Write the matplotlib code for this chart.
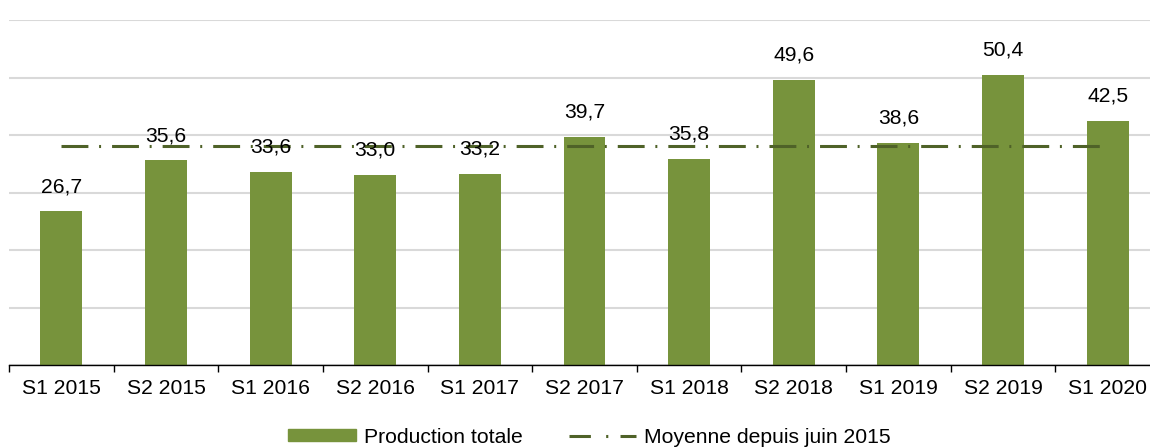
import numpy as np
import matplotlib.pyplot as plt
from matplotlib.lines import Line2D
from matplotlib.patches import Patch

plt.rcParams['font.family'] = ['Liberation Sans', 'DejaVu Sans']

periods = ["S1 2015", "S2 2015", "S1 2016", "S2 2016", "S1 2017", "S2 2017",
           "S1 2018", "S2 2018", "S1 2019", "S2 2019", "S1 2020"]
production = [26.7, 35.6, 33.6, 33.0, 33.2, 39.7, 35.8, 49.6, 38.6, 50.4, 42.5]
moyenne = [np.mean(production)] * len(production)

bar_color = '#77933C'
line_color = '#4F6228'
fs = 15.2

fig = plt.figure(figsize=(11.5, 4.48), dpi=100)
ax = fig.add_axes([9 / 1150, 83 / 448, 1151 / 1150, 345 / 448])

x = np.arange(len(periods))
ax.bar(x, production, width=0.4, color=bar_color, zorder=3)
ax.plot(x, moyenne, color=line_color, lw=2.2,
        linestyle=(0, (8.8, 3.5, 0.65, 3.6)), zorder=4)

for xi, v in zip(x, production):
    ax.annotate(f"{v:.1f}".replace('.', ','), (xi, v), xytext=(0, 11),
                textcoords='offset points', ha='center', va='bottom',
                fontsize=fs, zorder=5)

ax.set_xlim(-0.5, len(periods) - 0.5)
ax.set_ylim(0, 60)
ax.set_yticks(np.arange(0, 61, 10))
ax.set_yticklabels([])
ax.tick_params(axis='y', length=0)
ax.yaxis.grid(True, color='#d9d9d9', lw=1.5, zorder=0)

ax.set_xticks(x)
ax.set_xticklabels(periods, fontsize=fs)
ax.set_xticks(np.arange(-0.5, len(periods)), minor=True)
ax.tick_params(axis='x', which='major', length=0, pad=10)
ax.tick_params(axis='x', which='minor', length=5, width=1, direction='out')

for s in ['top', 'right', 'left']:
    ax.spines[s].set_visible(False)
ax.spines['bottom'].set_color('black')
ax.spines['bottom'].set_linewidth(1)
ax.spines['bottom'].set_zorder(6)

handles = [Patch(color=bar_color),
           Line2D([0], [0], color=line_color, lw=2.2,
                  linestyle=(0, (7, 5, 0.7, 4)))]
fig.legend(handles, ["Production totale", "Moyenne depuis juin 2015"],
           loc='center', bbox_to_anchor=(0.5126, 1 - 437 / 448), ncol=2,
           frameon=False, fontsize=fs, handlelength=3.2, handleheight=0.5,
           handletextpad=0.38, columnspacing=2.2, borderpad=0)

fig.savefig('out.png', dpi=100)
